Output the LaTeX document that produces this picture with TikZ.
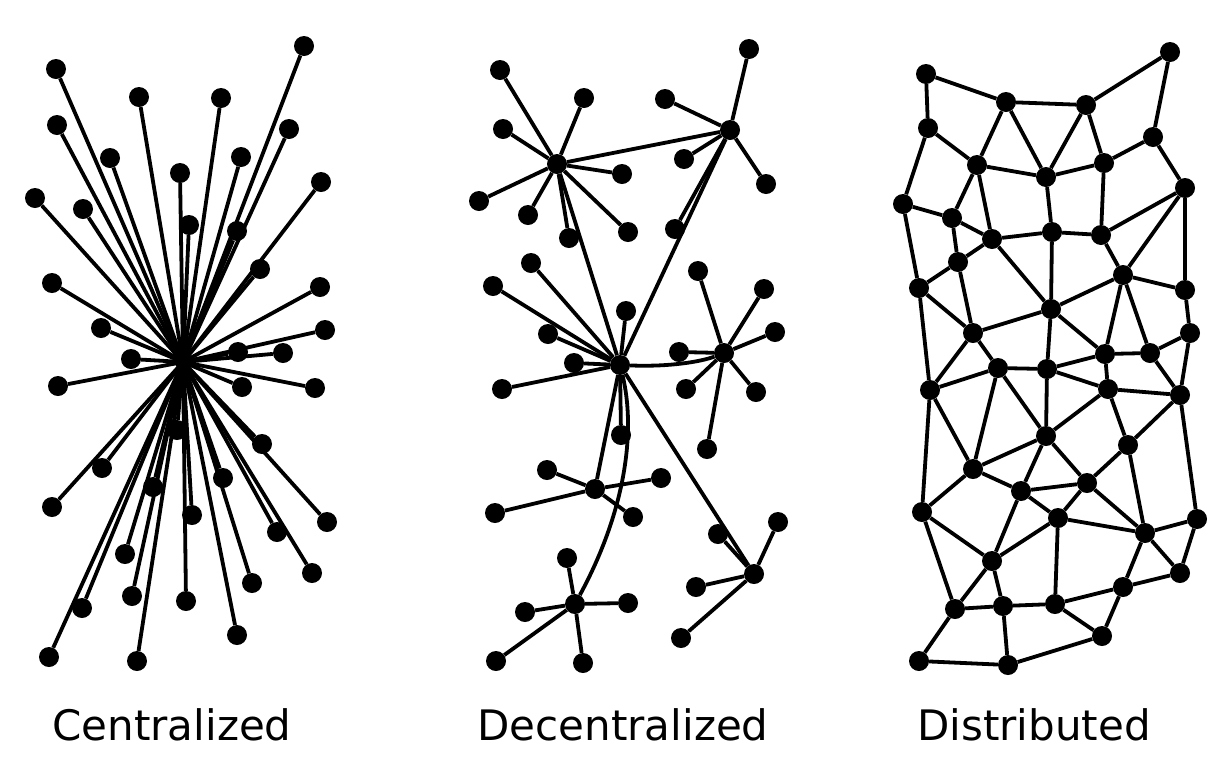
\documentclass[tikz,border=0pt]{standalone}
\usepackage{fontspec}
\setmainfont{DejaVu Sans}
\tikzset{
  dot/.style={circle,fill=black,inner sep=0pt,minimum size=20pt},
  hubdot/.style={circle,fill=black,inner sep=0pt,minimum size=16pt},
  edge/.style={line width=3.8pt,black},
  lbl/.style={anchor=base,inner sep=0pt,font=\fontsize{42}{50}\selectfont}
}
\begin{document}
\begin{tikzpicture}[x=1pt,y=-1pt]
\useasboundingbox (0,0) rectangle (1226,772);
\fill[white] (0,0) rectangle (1226,772);

% ---------- Centralized ----------
\node[hubdot] (ch) at (183,362) {};
\foreach \x/\y [count=\i] in {56/69,304/46,139/97,221/98,57/125,289/129,110/158,241/157,180/173,35/198,321/182,83/209,189/225,237/231,260/269,52/283,320/287,101/328,325/330,238/352,283/353,131/359,58/386,242/387,315/388,262/444,102/468,223/478,153/487,52/507,192/515,327/522,277/532,125/554,312/573,252/583,132/596,186/601,82/608,237/635,49/657,137/661,177/430}{
  \node[dot] (c\i) at (\x,\y) {};
  \draw[edge] (ch.center) -- (c\i);
}

% ---------- Decentralized ----------
\node[dot] (A) at (557,164) {};
\node[dot] (B) at (730,130) {};
\node[dot] (C) at (620,365) {};
\node[dot] (D) at (724,353) {};
\node[dot] (E) at (595,489) {};
\node[dot] (F) at (575,604) {};
\node[dot] (G) at (754,574) {};
\foreach \x/\y [count=\i] in {500/70,584/98,503/129,622/174,479/201,528/215,569/238,628/232}{
  \node[dot] (a\i) at (\x,\y) {}; \draw[edge] (A) -- (a\i);}
\foreach \x/\y [count=\i] in {749/49,665/99,684/159,766/184,675/229}{
  \node[dot] (b\i) at (\x,\y) {}; \draw[edge] (B) -- (b\i);}
\foreach \x/\y [count=\i] in {531/263,493/286,626/311,548/334,574/363,502/389,621/435}{
  \node[dot] (cc\i) at (\x,\y) {}; \draw[edge] (C) -- (cc\i);}
\foreach \x/\y [count=\i] in {698/271,764/289,775/332,679/352,686/389,756/392,707/449}{
  \node[dot] (dd\i) at (\x,\y) {}; \draw[edge] (D) -- (dd\i);}
\foreach \x/\y [count=\i] in {547/470,661/478,495/513,633/517}{
  \node[dot] (e\i) at (\x,\y) {}; \draw[edge] (E) -- (e\i);}
\foreach \x/\y [count=\i] in {567/558,628/603,525/612,496/661,583/663}{
  \node[dot] (f\i) at (\x,\y) {}; \draw[edge] (F) -- (f\i);}
\foreach \x/\y [count=\i] in {778/522,718/534,696/587,681/638}{
  \node[dot] (g\i) at (\x,\y) {}; \draw[edge] (G) -- (g\i);}
\draw[edge] (A) -- (B);
\draw[edge] (A) -- (C);
\draw[edge] (B) -- (C);
\draw[edge] (C) -- (E);
\draw[edge] (C) -- (G);
\draw[edge] (C) .. controls (668,367) and (700,362) .. (D);
\draw[edge] (C) .. controls (636,430) and (626,510) .. (F);

% ---------- Distributed ----------
\foreach \x/\y [count=\i] in {926/74,1170/52,1006/102,1086/105,928/128,1153/137,977/165,1046/177,1104/163,1185/188,903/204,952/218,992/239,1052/232,1101/235,958/262,919/288,1123/275,1185/290,1051/309,973/333,1190/333,1105/354,1150/353,998/368,1047/369,930/390,1108/389,1180/395,1046/436,1128/445,973/469,1021/491,1087/483,922/512,1058/518,1197/519,1145/533,992/561,1180/573,1123/587,955/609,1003/606,1055/604,1102/636,919/661,1008/665}{
  \node[dot] (d\i) at (\x,\y) {};
}
\foreach \a/\b in {1/3,1/5,3/4,4/2,2/6,3/7,3/8,4/8,4/9,5/7,5/11,6/9,6/10,7/8,7/12,7/13,8/9,8/14,9/15,10/15,10/18,10/19,11/12,11/17,12/13,12/16,13/14,13/16,13/20,14/15,14/20,15/18,16/17,16/21,17/21,17/27,18/19,18/20,18/23,18/24,19/22,20/21,20/26,20/23,21/25,21/27,22/24,22/29,23/24,23/26,23/28,24/29,25/26,25/27,25/30,25/32,26/28,26/30,27/32,27/35,28/29,28/30,28/31,29/31,29/37,30/32,30/33,30/34,31/34,31/38,32/33,32/35,33/34,33/36,33/39,34/36,34/38,35/39,35/42,36/38,36/39,36/44,37/38,37/40,38/40,38/41,39/42,39/43,40/41,41/44,41/45,42/43,42/46,43/44,43/47,44/45,45/47,46/47}{
  \draw[edge] (d\a) -- (d\b);
}

% ---------- Labels ----------
\node[lbl] (l1) at (172,740) {Centralized};
\node[lbl] (l2) at (623,740) {Decentralized};
\node[lbl] (l3) at (1034,740) {Distributed};
\end{tikzpicture}
\end{document}
